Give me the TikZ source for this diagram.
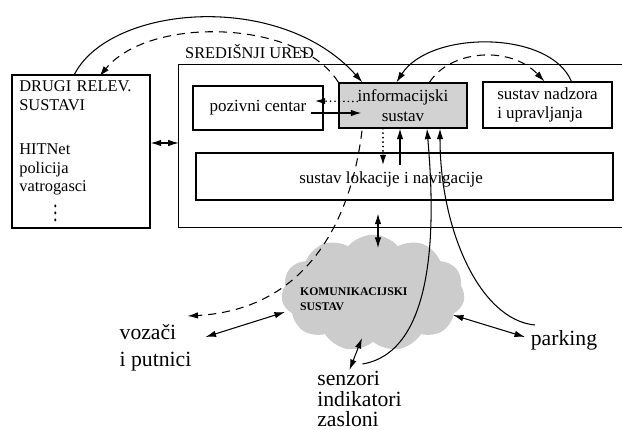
\documentclass[tikz,border=0pt]{standalone}
\usepackage{fontspec}
\setmainfont{Liberation Serif}
\usetikzlibrary{arrows.meta}
\usetikzlibrary{positioning}
\usetikzlibrary{calc}
\usetikzlibrary{shapes.symbols}

\tikzset{
  box/.style={draw, line width=1pt, inner sep=3pt, font=\fontsize{14.5}{16.5}\selectfont},
  veza/.style={line width=0.9pt, -{Latex[length=9pt,width=5.5pt]}},
  dvoveza/.style={line width=0.9pt, {Latex[length=9pt,width=5.5pt]}-{Latex[length=9pt,width=5.5pt]}},
  crtkano/.style={dash pattern=on 7pt off 5pt},
  tockasto/.style={line width=1.4pt, line cap=round, dash pattern=on 0.2pt off 3.6pt},
  vani/.style={align=left, inner sep=0pt},
}

\begin{document}
\begin{tikzpicture}[x=0.03cm, y=-0.03cm]
      \useasboundingbox (0,0) rectangle (622,430);

      % sredisnji ured
      \node (ured) [minimum width=13.29cm, minimum height=4.86cm, inner sep=0pt] at (400.5,146) {};
      \draw[line width=1pt] (ured.north east) -- (ured.north west) -- (ured.south west) -- (ured.south east);
      \node [anchor=west, font=\fontsize{14}{16}\selectfont] at (181,52) {SREDIŠNJI URED};

      \node (drugi) [box, font=\fontsize{14}{16}\selectfont, minimum width=4.14cm, minimum height=4.59cm, text width=3.7cm, align=left] at (81,151.5)
        {DRUGI RELEV.\\SUSTAVI\\[0.75cm]HITNet\\policija\\vatrogasci\\[-2pt]\hspace*{1.02cm}\scalebox{1}[1.5]{$\vdots$}};
      \node (poziv) [box, minimum width=3.9cm, minimum height=1.32cm] at (258,108) {pozivni centar};
      \node (info) [box, fill=gray!35, minimum width=3.84cm, minimum height=1.35cm, align=center] at (403,105.5)
        {informacijski\\sustav};
      \node (nadzor) [box, minimum width=3.87cm, minimum height=1.38cm, align=left] at (547.5,105)
        {sustav nadzora\\i upravljanja};
      \node (lokac) [box, minimum width=12.51cm, minimum height=1.41cm] at (404.5,176.5) {};
      \node [font=\fontsize{14.5}{16.5}\selectfont] at (391,179) {sustav lokacije i navigacije};

      \node (oblak) [cloud, cloud puffs=11, cloud puff arc=100, cloud ignores aspect, fill=gray!40,
        minimum width=5.5cm, minimum height=3.5cm] at (373,293) {};
      \node [anchor=west, align=left, font=\fontsize{10}{13}\selectfont\bfseries] at (296,299) {KOMUNIKACIJSKI\\SUSTAV};

      \node (vozaci) [vani, font=\fontsize{18.5}{23}\selectfont] at (155.5,348) {vozači\\ i putnici};
      \node (senzori) [vani, font=\fontsize{18.5}{17.5}\selectfont] at (359.5,399) {senzori\\indikatori\\zasloni};
      \node (parking) [vani, font=\fontsize{18.5}{21}\selectfont] at (564,340) {parking};

      % veze
      \draw[veza] ($(drugi.north west)+(63,0)$) .. controls (110,5) and (280,-10) .. ($(info.north west)+(24,0)$);
      \draw[veza, crtkano] (info.north west) .. controls (300,20) and (150,15) .. ($(drugi.north west)+(88,2)$);
      \draw[veza] ($(nadzor.north west)+(89,0)$) .. controls (550,30) and (430,30) .. ($(info.north west)+(58,0)$);
      \draw[veza, crtkano] ($(info.north west)+(91,0)$) .. controls (450,50) and (510,45) .. ($(nadzor.north west)+(62,0)$);
      \draw[veza, tockasto] ($(info.west)+(19,-4)$) -- ($(poziv.east)+(-9,-7)$);
      \draw[veza] ($(poziv.east)+(-13,5)$) -- ($(info.west)+(23,7.5)$);
      \draw[veza, tockasto] ($(info.south)+(-20,0)$) -- ($(lokac.north)+(-21.5,13)$);
      \draw[veza] ($(lokac.north)+(-4.5,13)$) -- ($(info.south)+(-3,0)$);
      \draw[dvoveza] ($(drugi.east)+(0,-8.5)$) -- ($(ured.west)+(0,-3)$);
      \draw[dvoveza] ($(lokac.south)+(-26.5,13)$) -- ($(oblak.center)+(5,-45)$);
      \draw[veza, crtkano] ($(info.south)+(-41,2)$) .. controls (350,230) and (300,310) .. ($(vozaci.center)+(32,-32)$);
      \draw[dvoveza] ($(vozaci.center)+(50,-11)$) -- ($(oblak.center)+(-88,19)$);
      \draw[veza] ($(senzori.center)+(3,-35)$) .. controls (445,350) and (432,190) .. ($(info.south)+(24,0)$);
      \draw[veza] ($(parking.center)+(-29,-15)$) .. controls (480,320) and (440,230) .. ($(info.south)+(37,0)$);
      \draw[dvoveza] ($(oblak.center)+(80,22)$) -- ($(parking.center)+(-39,-3)$);
      \draw[dvoveza] ($(oblak.center)+(-11,45)$) -- ($(senzori.center)+(-10,-29)$);
\end{tikzpicture}
\end{document}
